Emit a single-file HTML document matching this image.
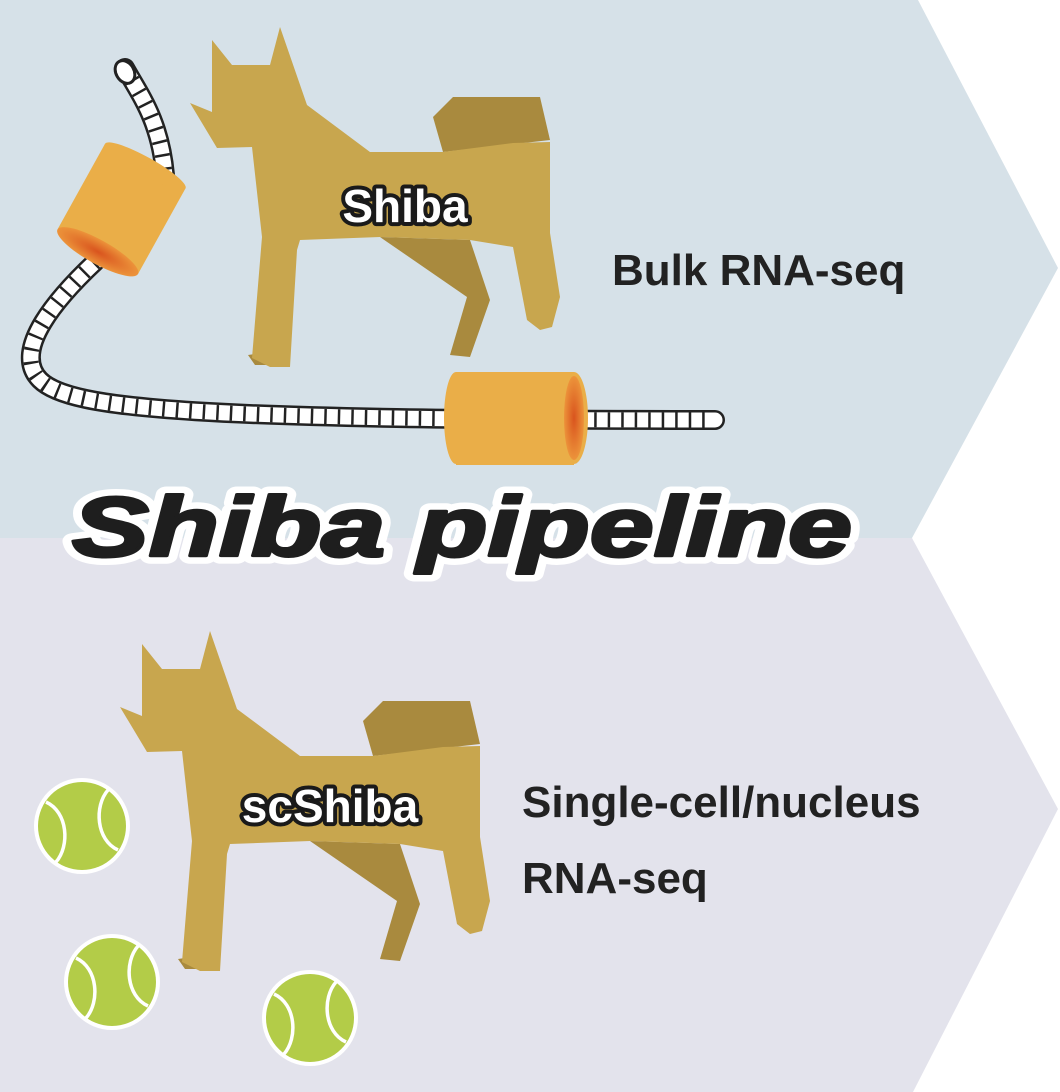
<!DOCTYPE html>
<html><head><meta charset="utf-8"><style>html,body{margin:0;padding:0;background:#fff}svg{display:block}</style></head>
<body>
<svg width="1060" height="1092" viewBox="0 0 1060 1092" xmlns="http://www.w3.org/2000/svg">
<defs>
<radialGradient id="hole" cx="0.5" cy="0.5" r="0.6"><stop offset="0" stop-color="#d9541e"/><stop offset="1" stop-color="#f0a040"/></radialGradient>
<g id="dog">
  <polygon fill="#a98a3e" points="265,237 262,353 248,355 255,365 285,365 290,250"/>
  <polygon fill="#a98a3e" points="380,237 467,297 450,355 470,357 490,300 470,240"/>
  <polygon fill="#a98a3e" points="433,117 453,97 540,97 550,140 443,152"/>
  <polygon fill="#c8a64e" points="190,103 212,112 212,40 232,65 270,65 280,27 307,105 370,152 443,152 513,143 550,142 550,233 560,297 552,327 540,330 527,320 513,247 470,240 380,237 300,240 297,250 290,367 270,367 252,358 262,237 252,147 217,148"/>
</g>
<g id="ball">
  <circle r="48" fill="#fff"/>
  <circle r="44" fill="#b3cc48"/>
  <path d="M-36,-24 C-14,-14 -12,20 -26,36" stroke="#fff" stroke-width="3.5" fill="none"/>
  <path d="M26,-36 C12,-20 14,14 36,24" stroke="#fff" stroke-width="3.5" fill="none"/>
</g>
</defs>
<rect width="1060" height="1092" fill="#fff"/>
<polygon points="0,0 918,0 1058,268 912,538 0,538" fill="#d6e1e8"/>
<polygon points="0,538 912,538 1058,809 913,1092 0,1092" fill="#e3e3ec"/>

<!-- rope -->
<g fill="none">
<path d="M125,68 C140,95 160,120 165,175 M95,262 C60,295 10,350 40,380 C70,410 200,420 715,420" stroke="#222" stroke-width="20" stroke-linecap="round"/>
<path d="M125,68 C140,95 160,120 165,175 M95,262 C60,295 10,350 40,380 C70,410 200,420 715,420" stroke="#fff" stroke-width="15" stroke-linecap="round"/>
<path d="M125,68 C140,95 160,120 165,175 M95,262 C60,295 10,350 40,380 C70,410 200,420 715,420" stroke="#222" stroke-width="15" stroke-dasharray="2.5 11"/>
</g>
<ellipse cx="125" cy="72" rx="9" ry="12" fill="#fff" stroke="#222" stroke-width="3" transform="rotate(-30 125 72)"/>
<!-- cylinder 1 -->
<g transform="rotate(29 122 208)">
  <rect x="76" y="160" width="92" height="98" fill="#eaae48"/>
  <ellipse cx="122" cy="160" rx="46" ry="9" fill="#eaae48"/>
  <ellipse cx="122" cy="258" rx="46" ry="12" fill="url(#hole)"/>
</g>
<!-- cylinder 2 -->
<rect x="456" y="372" width="118" height="93" fill="#eaae48"/>
<ellipse cx="574" cy="418" rx="14" ry="46" fill="#eaae48"/>
<ellipse cx="574" cy="418" rx="10" ry="42" fill="url(#hole)"/>
<ellipse cx="456" cy="418" rx="12" ry="46" fill="#eaae48"/>

<use href="#dog"/>
<use href="#dog" transform="translate(-70,604)"/>

<g font-family="Liberation Sans, Arial, sans-serif" font-weight="bold">
<text x="405" y="222" font-size="46" text-anchor="middle" fill="#fff" stroke="#1a1a1a" stroke-width="8" stroke-linejoin="round" paint-order="stroke">Shiba</text>
<text x="330" y="822" font-size="46" text-anchor="middle" fill="#fff" stroke="#1a1a1a" stroke-width="8" stroke-linejoin="round" paint-order="stroke">scShiba</text>
<text x="612" y="285" font-size="44" fill="#222">Bulk RNA-seq</text>
<text x="522" y="817" font-size="44" fill="#222">Single-cell/nucleus</text>
<text x="522" y="893" font-size="44" fill="#222">RNA-seq</text>
<text x="72" y="556" font-size="84" font-style="italic" fill="#fff" stroke="#fff" stroke-width="16" stroke-linejoin="round" textLength="780" lengthAdjust="spacingAndGlyphs">Shiba pipeline</text>
<text x="72" y="556" font-size="84" font-style="italic" fill="#1e1e1e" stroke="#1e1e1e" stroke-width="3" stroke-linejoin="round" textLength="780" lengthAdjust="spacingAndGlyphs">Shiba pipeline</text>
</g>

<use href="#ball" x="82" y="826"/>
<use href="#ball" x="112" y="982"/>
<use href="#ball" x="310" y="1018"/>
</svg>
</body></html>
